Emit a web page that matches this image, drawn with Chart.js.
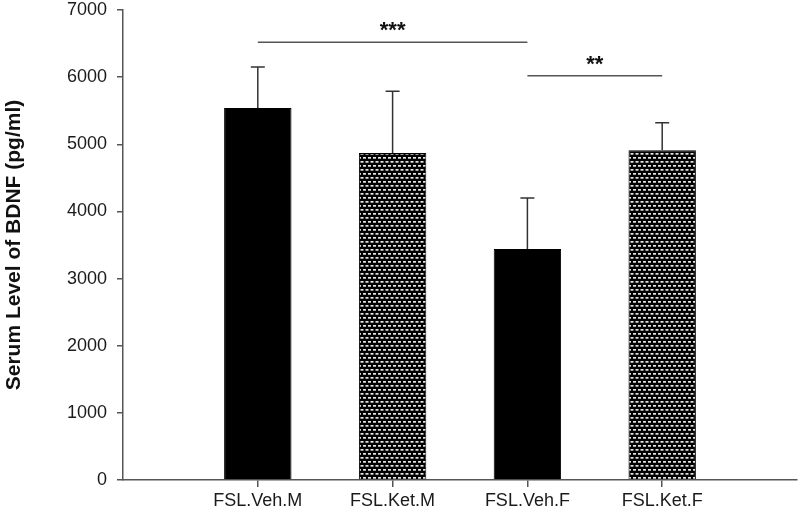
<!DOCTYPE html>
<html>
<head>
<meta charset="utf-8">
<script src="https://cdn.jsdelivr.net/npm/chart.js@4.4.1/dist/chart.umd.min.js"></script>
<style>
  html, body { margin: 0; padding: 0; background: #fff; }
  #wrap { width: 800px; height: 515px; }
</style>
</head>
<body>
<div id="wrap"><canvas id="myChart" width="800" height="515"></canvas></div>
<script>
// groups (empty slots at both ends keep the gap the original axis has)
const groups = ['', 'FSL.Veh.M', 'FSL.Ket.M', 'FSL.Veh.F', 'FSL.Ket.F', ''];
const means = [null, 5540, 4870, 3440, 4910, null];
const sem = [null, 610, 920, 760, 410, null];
const hatched = [false, false, true, false, true, false];
const yTicks = [0, 1000, 2000, 3000, 4000, 5000, 6000, 7000];

// significance brackets
const sigFrom = [1, 3];
const sigTo = [3, 4];
const sigLevel = [6520, 6020];
const sigText = ['***', '**'];

const canvas = document.getElementById('myChart');
const ctx = canvas.getContext('2d');

// black with small staggered light dashes, like the printed fill
function makePattern() {
    const c = document.createElement('canvas');
    c.width = 5;
    c.height = 8;
    const g = c.getContext('2d');
    g.fillStyle = '#000';
    g.fillRect(0, 0, 5, 8);
    g.fillStyle = '#e6e6e6';
    g.fillRect(0.5, 1, 3, 1.7);
    g.fillRect(3, 5, 2, 1.7);
    g.fillRect(0, 5, 1, 1.7);
    return ctx.createPattern(c, 'repeat');
}
const pattern = makePattern();

const errorBars = {
    id: 'errorBars',
    afterDatasetsDraw(chart) {
        const x = chart.scales.x, y = chart.scales.y;
        const c = chart.ctx;
        c.save();
        c.strokeStyle = '#333';
        c.lineWidth = 1.5;
        means.forEach((m, i) => {
            if (m == null) return;
            const px = x.getPixelForValue(i);
            const top = y.getPixelForValue(m + sem[i]);
            const base = y.getPixelForValue(m);
            c.beginPath();
            c.moveTo(px, base);
            c.lineTo(px, top);
            c.moveTo(px - 7, top);
            c.lineTo(px + 7, top);
            c.stroke();
        });
        c.restore();
    }
};

const brackets = {
    id: 'brackets',
    afterDatasetsDraw(chart) {
        const x = chart.scales.x, y = chart.scales.y;
        const c = chart.ctx;
        c.save();
        sigText.forEach((t, i) => {
            const x1 = x.getPixelForValue(sigFrom[i]);
            const x2 = x.getPixelForValue(sigTo[i]);
            const py = y.getPixelForValue(sigLevel[i]);
            c.strokeStyle = '#555';
            c.lineWidth = 1.5;
            c.beginPath();
            c.moveTo(x1, py);
            c.lineTo(x2, py);
            c.stroke();
            c.fillStyle = '#111';
            c.font = 'bold 22px "Liberation Sans", Arial, sans-serif';
            c.textAlign = 'center';
            c.textBaseline = 'middle';
            c.fillText(t, (x1 + x2) / 2, py - 11);
        });
        c.restore();
    }
};

new Chart(canvas, {
    type: 'bar',
    data: {
        labels: groups,
        datasets: [{
            data: means,
            backgroundColor: hatched.map(h => h ? pattern : '#000'),
            borderColor: '#000',
            borderWidth: 1,
            barPercentage: 0.5,
            categoryPercentage: 1.0
        }]
    },
    options: {
        responsive: false,
        animation: false,
        layout: { padding: { top: 0, right: 3, left: 2, bottom: 0 } },
        plugins: {
            legend: { display: false },
            tooltip: { enabled: false }
        },
        scales: {
            x: {
                offset: false,
                grid: {
                    display: true,
                    offset: false,
                    drawOnChartArea: false,
                    drawTicks: true,
                    tickLength: 7,
                    lineWidth: 1.5,
                    tickColor: (c) => (c.tick && c.tick.label) ? '#555' : 'rgba(0,0,0,0)'
                },
                border: { display: true, color: '#555', width: 1.5 },
                ticks: {
                    color: '#1a1a1a',
                    padding: 3,
                    maxRotation: 0,
                    autoSkip: false,
                    font: { family: '"Liberation Sans", Arial, sans-serif', size: 18 }
                },
                afterFit(scale) { scale.height = 35; }
            },
            y: {
                min: 0,
                max: 7000,
                afterBuildTicks(scale) { scale.ticks = yTicks.map(v => ({ value: v })); },
                grid: {
                    display: true,
                    drawOnChartArea: false,
                    drawTicks: true,
                    tickLength: 6,
                    lineWidth: 1.5,
                    tickColor: '#555'
                },
                border: { display: true, color: '#555', width: 1.5 },
                ticks: {
                    color: '#1a1a1a',
                    padding: 10,
                    callback: (v) => String(v),
                    font: { family: '"Liberation Sans", Arial, sans-serif', size: 18 }
                },
                title: {
                    display: true,
                    text: 'Serum Level of BDNF (pg/ml)',
                    color: '#111',
                    padding: { top: 0, bottom: 0 },
                    font: { family: '"Liberation Sans", Arial, sans-serif', size: 21, weight: 'bold' }
                },
                afterFit(scale) {
                    scale.width = 121;
                    scale.paddingTop = 10;
                }
            }
        }
    },
    plugins: [errorBars, brackets]
});
</script>
</body>
</html>
